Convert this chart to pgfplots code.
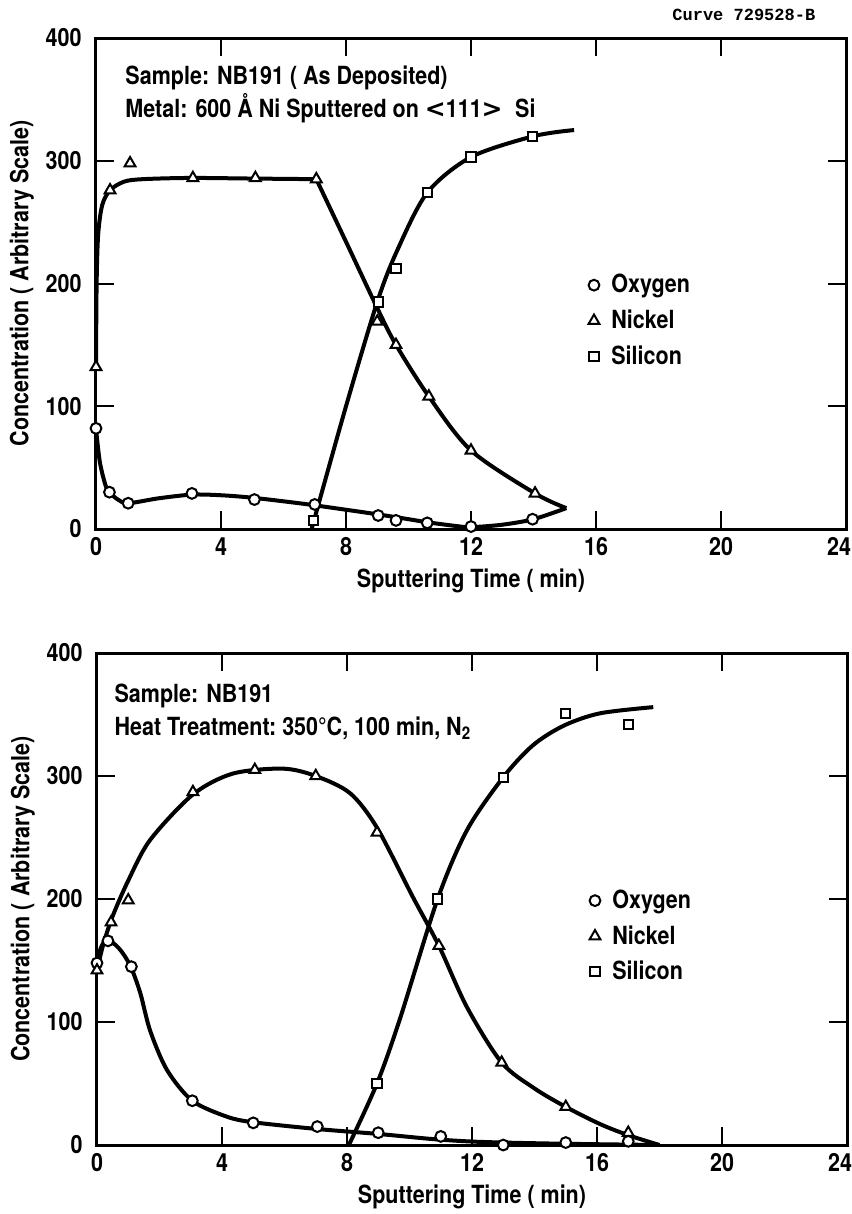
\documentclass[border=0pt]{standalone}
\usepackage{fontspec}
\setmainfont{TeX Gyre Heros}[FakeStretch=0.86]
\newfontfamily\curvefont{Liberation Mono}
\usepackage{pgfplots}
\pgfplotsset{compat=1.18}
\newcommand{\lblfont}{\fontsize{12.5}{14}\selectfont\bfseries}
\pgfplotsset{
  chart/.style={
    scale only axis, width=375pt,
    xmin=0, xmax=24, ymin=0, ymax=400,
    xtick={0,4,...,24}, ytick={0,100,...,400},
    xticklabels={0,4,8,12,16,20,{\hspace*{-7pt}24}},
    tick align=inside, major tick length=9pt,
    axis line style={line width=1.5pt},
    every tick/.style={line width=1pt, black},
    /pgf/number format/assume math mode=true,
    tick label style={font=\lblfont},
    xticklabel style={inner sep=0pt, anchor=north, yshift=-4pt},
    yticklabel style={inner sep=0pt, anchor=east, xshift=-7pt},
    every axis y label/.style={at={(axis description cs:-0.099,0.5)}, rotate=90, anchor=center, inner sep=0pt, font=\lblfont},
    every axis x label/.style={at={(axis description cs:0.5,-0.08)}, anchor=north, inner sep=0pt, font=\lblfont},
    xlabel={Sputtering Time ( min)},
    ylabel={Concentration ( Arbitrary Scale)},
    legend image code/.code={\draw[#1] plot coordinates {(0pt,0pt)};},
    legend cell align=left,
    legend style={draw=none, fill=none, font=\lblfont, inner sep=0pt, row sep=3pt, column sep=4pt},
  },
  curve/.style={line width=2pt, black, smooth, tension=0.5, forget plot},
  ox/.style={only marks, mark=*, mark size=2.7pt, mark options={fill=white, draw=black, line width=1pt}},
  ni/.style={only marks, mark=triangle*, mark size=3.1pt, mark options={fill=white, draw=black, line width=1pt}},
  si/.style={only marks, mark=square*, mark size=2.3pt, mark options={fill=white, draw=black, line width=1pt}},
}
\begin{document}
\begin{tikzpicture}
\useasboundingbox (0,0) rectangle (425.5pt,-607pt);
\node[anchor=base west, inner sep=0pt, font=\curvefont\bfseries\fontsize{8.5}{10}\selectfont] at (336pt,-10.5pt) {Curve 729528-B};
% ---------------- top panel ----------------
\begin{axis}[chart, height=245.5pt, at={(48pt,-264.5pt)}, anchor=south west,
  legend style={at={(axis cs:15.75,211)}, anchor=north west}]
% curves
\addplot[curve] coordinates {(0,82) (0.12,55) (0.3,36) (0.43,30) (0.7,24) (1.03,21) (2,25) (3.07,28) (4,27.5) (5,25.5) (6.5,21) (7.5,17.5) (9,12) (10,8) (10.6,5.5) (11.5,2.5) (12,1.5) (13,3.5) (14,8) (15.05,17)};
\addplot[curve] coordinates {(0,132) (0.02,200) (0.07,240) (0.2,264) (0.45,276) (0.9,283) (1.5,285) (3,286) (5,285.5) (7.05,285)};
\addplot[curve] coordinates {(7.05,285) (8,234) (9,180) (9.6,150) (10.65,108) (12,64) (14.05,29) (15.05,17)};
\addplot[curve] coordinates {(6.9,0) (8,100) (9,185) (9.64,227) (10.6,274) (12,303) (14,320) (15.3,325)};
% markers
\addplot[ox] coordinates {(0,82) (0.43,30) (1.03,21) (3.07,29) (5.07,24) (7,20) (9.03,11) (9.6,7) (10.6,5) (12,2) (13.97,8)};
\addlegendentry{Oxygen}
\addplot[ni] coordinates {(0,132) (0.45,276) (1.09,298) (3.1,286) (5.1,286) (7.05,285) (9,169) (9.6,150) (10.65,108) (12,64) (14.05,29)};
\addlegendentry{Nickel}
\addplot[si] coordinates {(6.96,7) (9.04,185) (9.6,212) (10.6,274) (12,303) (13.98,320)};
\addlegendentry{Silicon}
\node[anchor=base west, inner sep=0pt, font=\lblfont] at (axis cs:0.93,362) {Sample: NB191 ( As Deposited)};
\node[anchor=base west, inner sep=0pt, font=\lblfont] at (axis cs:0.93,335) {Metal: 600 Å Ni Sputtered on {\fontspec{DejaVu Sans}<}111{\fontspec{DejaVu Sans}>}\enspace Si};
\end{axis}
% ---------------- bottom panel ----------------
\begin{axis}[chart, height=246pt, at={(48.5pt,-572.5pt)}, anchor=south west,
  legend style={at={(axis cs:15.75,211)}, anchor=north west}]
\addplot[curve] coordinates {(0,148) (0.12,160) (0.32,167) (0.7,160) (1.06,146) (1.38,124) (1.7,93) (2.24,61) (3.05,36) (4.16,23) (5,18.5) (7.05,13) (9,9) (10.66,5) (11.84,3) (13,2) (15,1) (18,0)};
\addplot[curve] coordinates {(0,142) (0.2,163) (0.5,186) (1,215) (1.7,248) (3.07,285) (4.35,302) (5.95,306) (7,300) (8.1,286) (8.96,258) (10.1,202) (10.94,162) (11.84,112) (12.95,67) (14,46) (15,31) (16.1,17) (17,8) (18,0)};
\addplot[curve] coordinates {(8.06,0) (8.96,50) (9.7,103) (10.9,200) (11.84,256) (13,299) (13.95,325) (14.94,341) (16.1,351) (17.8,356)};
\addplot[ox] coordinates {(0,148) (0.35,166) (1.1,145) (3.05,36) (5,18) (7.05,15) (9,10) (11,7) (13,0) (15,2) (17,3)};
\addlegendentry{Oxygen}
\addplot[ni] coordinates {(0,142) (0.45,181) (1,199) (3.07,287) (5.05,305) (7,300) (8.96,254) (10.94,162) (12.95,67) (15,31) (17,10)};
\addlegendentry{Nickel}
\addplot[si] coordinates {(8.96,50) (10.9,200) (13,299) (15,351) (17,342)};
\addlegendentry{Silicon}
\node[anchor=base west, inner sep=0pt, font=\lblfont] at (axis cs:0.55,360) {Sample: NB191};
\node[anchor=base west, inner sep=0pt, font=\lblfont] at (axis cs:0.55,333) {Heat Treatment:\ 350°C,\ 100 min,\ N\textsubscript{2}};
\end{axis}
\end{tikzpicture}
\end{document}
